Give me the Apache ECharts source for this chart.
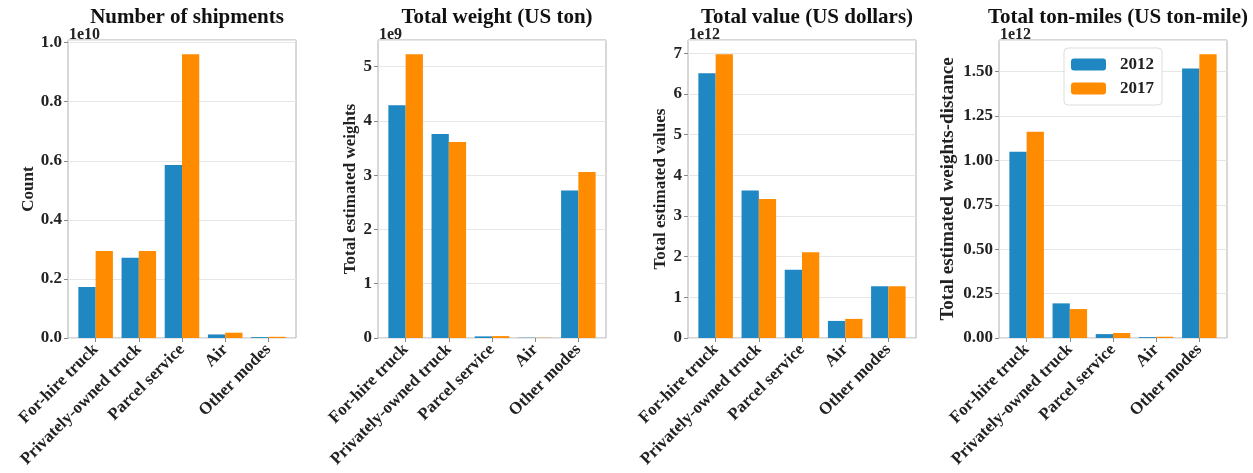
<!DOCTYPE html>
<html><head><meta charset="utf-8">
<script src="https://cdn.jsdelivr.net/npm/echarts@6/dist/echarts.min.js"></script>
<style>html,body{margin:0;padding:0;background:#fff}#c{width:1253px;height:473px}</style>
</head><body><div id="c"></div>
<script>
const categories = ['For-hire truck','Privately-owned truck','Parcel service','Air','Other modes'];
const years = ['2012','2017'];
const shipments2012 = [1.73e9, 2.72e9, 5.86e9, 0.12e9, 0.03e9];
const shipments2017 = [2.95e9, 2.95e9, 9.61e9, 0.18e9, 0.04e9];
const weight2012 = [4.29e9, 3.76e9, 0.03e9, 0.005e9, 2.72e9];
const weight2017 = [5.23e9, 3.61e9, 0.035e9, 0.004e9, 3.06e9];
const value2012 = [6.51e12, 3.63e12, 1.68e12, 0.42e12, 1.27e12];
const value2017 = [6.98e12, 3.42e12, 2.11e12, 0.47e12, 1.27e12];
const tonmiles2012 = [1.049e12, 0.195e12, 0.022e12, 0.005e12, 1.517e12];
const tonmiles2017 = [1.162e12, 0.163e12, 0.028e12, 0.007e12, 1.598e12];

const titles = ['Number of shipments','Total weight (US ton)','Total value (US dollars)','Total ton-miles (US ton-mile)'];
const yNames = ['Count','Total estimated weights','Total estimated values','Total estimated weights-distance'];
const offsets = ['1e10','1e9','1e12','1e12'];
const scales = [1e10, 1e9, 1e12, 1e12];
const tickSteps = [0.2, 1, 1, 0.25];
const decimals = [1, 0, 0, 2];
const seriesA = [shipments2012, weight2012, value2012, tonmiles2012];
const seriesB = [shipments2017, weight2017, value2017, tonmiles2017];

const panels = [
  {left: 68, width: 228, nameGap: 31, nameSize: 17},
  {left: 378, width: 228, nameGap: 17, nameSize: 17},
  {left: 688, width: 228, nameGap: 17, nameSize: 17},
  {left: 999, width: 228, nameGap: 41, nameSize: 19}
];
const TOP = 40, H = 298;
const BLUE = '#1f88c2', ORANGE = '#ff8c00';
const FONT = '"Liberation Serif","Times New Roman",serif';

const grids = [], xAxes = [], yAxes = [], series = [], title = [];
panels.forEach((p, i) => {
  const maxV = Math.max(...seriesA[i], ...seriesB[i]) * 1.05;
  const inset = p.width * 0.14 / 5.28;
  grids.push({left: p.left, top: TOP, width: p.width, height: H, show: true, borderColor: '#b0b0b0', borderWidth: 1, backgroundColor: 'transparent'});
  grids.push({left: p.left + inset, top: TOP, width: p.width - 2 * inset, height: H});
  xAxes.push({gridIndex: 2*i, type: 'value', min: 0, max: 1, show: false});
  xAxes.push({gridIndex: 2*i+1, type: 'category', data: categories,
    axisLine: {show: false},
    axisTick: {show: true, alignWithLabel: true, length: 4, lineStyle: {color: '#888'}},
    axisLabel: {rotate: 45, interval: 0, margin: 9, color: '#222', fontFamily: FONT, fontWeight: 'bold', fontSize: 17}
  });
  const step = tickSteps[i] * scales[i];
  yAxes.push({gridIndex: 2*i, type: 'value', min: 0, max: maxV, interval: step,
    name: yNames[i], nameLocation: 'middle', nameGap: p.nameGap,
    nameTextStyle: {color: '#222', fontFamily: FONT, fontWeight: 'bold', fontSize: p.nameSize},
    axisLine: {show: false},
    axisTick: {show: true, length: 4, lineStyle: {color: '#888'}},
    splitLine: {show: true, lineStyle: {color: '#e6e6e6', width: 1}},
    axisLabel: {showMaxLabel: false, margin: 6, color: '#222', fontFamily: FONT, fontWeight: 'bold', fontSize: 17,
      formatter: v => { const s = v / scales[i]; const k = s / tickSteps[i]; return Math.abs(k - Math.round(k)) < 1e-6 ? s.toFixed(decimals[i]) : ''; }}
  });
  yAxes.push({gridIndex: 2*i+1, type: 'value', min: 0, max: maxV, show: false});
  series.push({type: 'bar', name: years[0], xAxisIndex: 2*i+1, yAxisIndex: 2*i+1, data: seriesA[i], itemStyle: {color: BLUE}, barGap: '0%', barCategoryGap: '20%'});
  series.push({type: 'bar', name: years[1], xAxisIndex: 2*i+1, yAxisIndex: 2*i+1, data: seriesB[i], itemStyle: {color: ORANGE}, barGap: '0%', barCategoryGap: '20%'});
  title.push({text: titles[i], left: p.left + p.width / 2, textAlign: 'center', top: 2,
    textStyle: {color: '#111', fontFamily: FONT, fontWeight: 'bold', fontSize: 21}});
  title.push({text: offsets[i], left: p.left - 4, top: 22,
    textStyle: {color: '#222', fontFamily: FONT, fontWeight: 'bold', fontSize: 16}});
});

const chart = echarts.init(document.getElementById('c'), null, {renderer: 'canvas'});
chart.setOption({
  animation: false,
  backgroundColor: '#fff',
  title: title,
  grid: grids,
  xAxis: xAxes,
  yAxis: yAxes,
  series: series,
  legend: {data: years, orient: 'vertical', left: 1064, top: 48, itemWidth: 35, itemHeight: 12, itemGap: 7,
    padding: [8, 8, 8, 7], borderColor: '#ddd', borderWidth: 1, borderRadius: 4, backgroundColor: '#fff',
    textStyle: {color: '#222', fontFamily: FONT, fontWeight: 'bold', fontSize: 17, padding: [0, 0, 0, 9]}}
});
</script></body></html>
